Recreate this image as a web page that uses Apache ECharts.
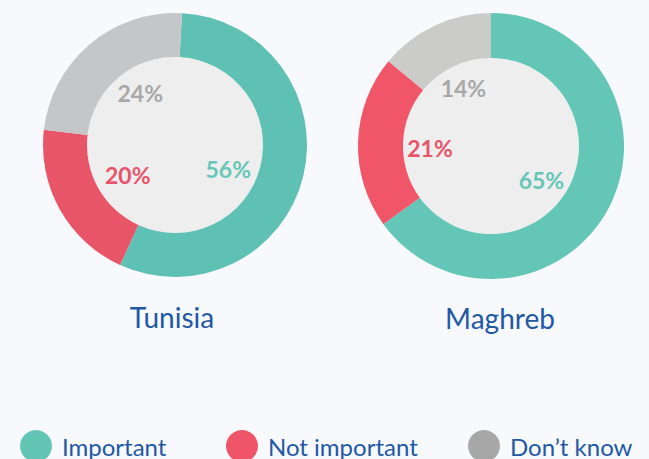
<!DOCTYPE html>
<html lang="en">
<head>
    <meta charset="UTF-8">
    <title>Importance - Tunisia vs Maghreb</title>
    <script src="https://cdn.jsdelivr.net/npm/echarts@6/dist/echarts.min.js"></script>
    <style>
        html, body { margin: 0; padding: 0; background: #f7f9fc; }
    </style>
</head>
<body>
    <div id="chart" style="width: 649px;height:459px;"></div>
    <script type="text/javascript">

        var categories = ['Important', 'Not important', 'Don\u2019t know'];
        var regions = ['Tunisia', 'Maghreb'];
        var tunisiaValues = [56, 20, 24];
        var maghrebValues = [65, 21, 14];

        var ringColors = {
            Tunisia: ['#5fc1b4', '#e85468', '#c5c6c8'],
            Maghreb: ['#63c6b6', '#f05668', '#cbcbca']
        };
        var labelColors = ['#66c7b8', '#e8546a', '#a8a8a8'];
        var legendColors = ['#63c6b5', '#f05468', '#a6a7a6'];
        // small nudges of the labels, as the original places them by hand
        var labelNudge = {
            Tunisia: [[-5, 10], [5, 1], [4, -6]],
            Maghreb: [[-3, 7], [-1, 4], [-2, -4]]
        };
        var blue = '#1f58a5';
        var font = 'Lato, sans-serif';

        var chart = echarts.init(document.getElementById('chart'), null, {renderer: 'svg'});

        // one donut = inner disc + ring + transparent series that carries the labels
        function donut(name, values, center, outer, startAngle) {
            var cols = ringColors[name];
            var ringData = [], labelData = [];
            for (var i = 0; i < categories.length; i++) {
                ringData.push({name: categories[i], value: values[i], itemStyle: {color: cols[i]}});
                labelData.push({
                    name: categories[i], value: values[i],
                    label: {color: labelColors[i], offset: labelNudge[name][i]}
                });
            }
            return [{
                type: 'pie', name: name + '-disc', silent: true,
                center: center, radius: [0, 88],
                label: {show: false}, labelLine: {show: false},
                itemStyle: {color: '#eeeeee'},
                data: [{name: 'disc', value: 1}]
            }, {
                type: 'pie', name: name, silent: true,
                center: center, radius: [88, outer],
                startAngle: startAngle, clockwise: true,
                label: {show: false}, labelLine: {show: false},
                emphasis: {disabled: true},
                data: ringData
            }, {
                type: 'pie', name: name + '-labels', silent: true,
                center: center, radius: [0, 114],
                startAngle: startAngle, clockwise: true,
                itemStyle: {color: 'rgba(0,0,0,0)'},
                emphasis: {disabled: true},
                label: {
                    show: true, position: 'inside',
                    formatter: '{c}%',
                    fontFamily: font, fontSize: 23, fontWeight: 'bold'
                },
                labelLine: {show: false},
                data: labelData
            }];
        }

        var series = [].concat(
            donut(regions[0], tunisiaValues, [175, 145], 132, 87),
            donut(regions[1], maghrebValues, [491, 146], 133, 90)
        );

        var legendLefts = [20, 226, 468];
        var legends = [];
        for (var i = 0; i < categories.length; i++) {
            legends.push({
                left: legendLefts[i], top: 430,
                padding: 0,
                selectedMode: false,
                icon: 'circle',
                itemWidth: 32, itemHeight: 32,
                textStyle: {
                    color: blue, fontFamily: font, fontSize: 24,
                    padding: [0, 0, 0, 5]
                },
                data: [{name: categories[i], itemStyle: {color: legendColors[i]}}]
            });
        }

        chart.setOption({
            backgroundColor: '#f7f9fc',
            animation: false,
            graphic: [{
                type: 'text',
                style: {
                    text: regions[0], x: 172, y: 317,
                    textAlign: 'center', textVerticalAlign: 'middle',
                    fill: blue, font: '28px ' + font
                }
            }, {
                type: 'text',
                style: {
                    text: regions[1], x: 500, y: 318,
                    textAlign: 'center', textVerticalAlign: 'middle',
                    fill: blue, font: '28px ' + font
                }
            }],
            legend: legends,
            series: series
        });

    </script>
</body>
</html>
